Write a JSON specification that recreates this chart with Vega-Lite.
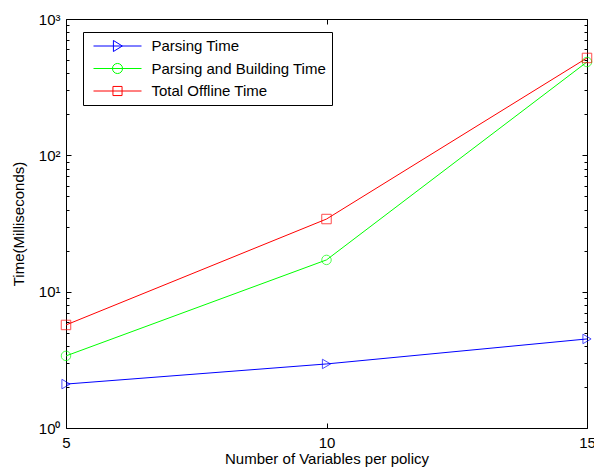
{
  "$schema": "https://vega.github.io/schema/vega-lite/v6.json",
  "width": 521,
  "height": 409,
  "autosize": {"type": "none"},
  "padding": {"left": 66, "top": 19, "right": 7, "bottom": 44},
  "background": "white",
  "config": {
    "font": "Liberation Sans",
    "view": {"stroke": "black", "strokeWidth": 1},
    "axis": {
      "domain": false,
      "grid": false,
      "zindex": 1,
      "tickColor": "black",
      "tickWidth": 1,
      "labelColor": "black",
      "labelFont": "Liberation Sans",
      "labelFontSize": 15,
      "titleFont": "Liberation Sans",
      "titleFontSize": 15,
      "titleFontWeight": "normal",
      "titleColor": "black"
    },
    "legend": {
      "orient": "none",
      "legendX": 17,
      "legendY": 13,
      "strokeColor": "black",
      "strokeWidth": 1,
      "fillColor": "white",
      "padding": 5.5,
      "symbolSize": 2304,
      "symbolOpacity": 1,
      "clipHeight": 17,
      "rowPadding": 5.5,
      "symbolOffset": 4.5,
      "labelOffset": 9.5,
      "symbolStrokeWidth": 1,
      "labelFont": "Liberation Sans",
      "labelFontSize": 15,
      "labelColor": "black",
      "labelLimit": 400
    }
  },
  "data": {
    "values": [
      {"vars": 5, "series": "Parsing Time", "ms": 2.1},
      {"vars": 10, "series": "Parsing Time", "ms": 2.95},
      {"vars": 15, "series": "Parsing Time", "ms": 4.5},
      {"vars": 5, "series": "Parsing and Building Time", "ms": 3.38},
      {"vars": 10, "series": "Parsing and Building Time", "ms": 17.1},
      {"vars": 15, "series": "Parsing and Building Time", "ms": 484},
      {"vars": 5, "series": "Total Offline Time", "ms": 5.7},
      {"vars": 10, "series": "Total Offline Time", "ms": 34.1},
      {"vars": 15, "series": "Total Offline Time", "ms": 518}
    ]
  },
  "layer": [
    {
      "mark": {"type": "line", "strokeWidth": 1},
      "encoding": {
        "x": {
          "field": "vars", "type": "quantitative",
          "scale": {"domain": [5, 15], "nice": false, "zero": false},
          "axis": {
            "orient": "bottom",
            "values": [5, 10, 15],
            "format": "d",
            "offset": -5,
            "tickSize": 5,
            "labelFlush": false,
            "labelPadding": 7,
            "title": "Number of Variables per policy",
            "titlePadding": 1
          }
        },
        "y": {
          "field": "ms", "type": "quantitative",
          "scale": {"type": "log", "domain": [1, 1000], "nice": false},
          "axis": {
            "orient": "left",
            "values": [1, 10, 100, 1000],
            "labelExpr": "datum.value == 1 ? '10⁰' : datum.value == 10 ? '10¹' : datum.value == 100 ? '10²' : '10³'",
            "labelOverlap": false,
            "labelBound": false,
            "offset": -5,
            "tickSize": 5,
            "labelPadding": 6,
            "title": "Time(Milliseconds)",
            "titlePadding": 12
          }
        },
        "color": {
          "field": "series", "type": "nominal",
          "scale": {
            "domain": ["Parsing Time", "Parsing and Building Time", "Total Offline Time"],
            "range": ["#0000ff", "#00ff00", "#ff0000"]
          },
          "legend": null
        }
      }
    },
    {
      "mark": {"type": "point", "filled": false, "size": 90, "strokeWidth": 1},
      "encoding": {
        "x": {"field": "vars", "type": "quantitative", "axis": null},
        "y": {"field": "ms", "type": "quantitative", "axis": null},
        "color": {
          "field": "series", "type": "nominal",
          "scale": {
            "domain": ["Parsing Time", "Parsing and Building Time", "Total Offline Time"],
            "range": ["#0000ff", "#00ff00", "#ff0000"]
          },
          "legend": null
        },
        "shape": {
          "field": "series", "type": "nominal",
          "scale": {
            "domain": ["Parsing Time", "Parsing and Building Time", "Total Offline Time"],
            "range": ["triangle-right", "circle", "square"]
          },
          "legend": null
        }
      }
    },
    {
      "mark": {"type": "point", "filled": false, "opacity": 0, "strokeWidth": 1},
      "encoding": {
        "x": {
          "field": "vars", "type": "quantitative",
          "axis": {"orient": "top", "values": [5, 10, 15], "labels": false, "title": null, "offset": -5, "tickSize": 5}
        },
        "y": {
          "field": "ms", "type": "quantitative",
          "axis": {"orient": "right", "values": [1, 10, 100, 1000], "labels": false, "title": null, "offset": -5, "tickSize": 5}
        },
        "color": {
          "field": "series", "type": "nominal",
          "scale": {
            "domain": ["Parsing Time", "Parsing and Building Time", "Total Offline Time"],
            "range": ["#0000ff", "#00ff00", "#ff0000"]
          },
          "legend": {"title": null}
        },
        "shape": {
          "field": "series", "type": "nominal",
          "scale": {
            "domain": ["Parsing Time", "Parsing and Building Time", "Total Offline Time"],
            "range": [
              "M-1,0L1,0M-0.17,-0.23L0.2,0L-0.17,0.23Z",
              "M-1,0L1,0M0.21,0A0.21,0.21 0 1,1 -0.21,0A0.21,0.21 0 1,1 0.21,0Z",
              "M-1,0L1,0M-0.19,-0.19L0.19,-0.19L0.19,0.19L-0.19,0.19Z"
            ]
          },
          "legend": {"title": null}
        }
      }
    },
    {
      "mark": {"type": "point", "opacity": 0},
      "encoding": {
        "x": {"field": "vars", "type": "quantitative", "axis": null},
        "y": {
          "field": "ms", "type": "quantitative",
          "axis": {
            "orient": "left",
            "values": [2, 3, 4, 5, 6, 7, 8, 9, 20, 30, 40, 50, 60, 70, 80, 90, 200, 300, 400, 500, 600, 700, 800, 900],
            "labels": false, "title": null, "offset": -3, "tickSize": 3
          }
        }
      }
    },
    {
      "mark": {"type": "point", "opacity": 0},
      "encoding": {
        "x": {"field": "vars", "type": "quantitative", "axis": null},
        "y": {
          "field": "ms", "type": "quantitative",
          "axis": {
            "orient": "right",
            "values": [2, 3, 4, 5, 6, 7, 8, 9, 20, 30, 40, 50, 60, 70, 80, 90, 200, 300, 400, 500, 600, 700, 800, 900],
            "labels": false, "title": null, "offset": -3, "tickSize": 3
          }
        }
      }
    }
  ],
  "resolve": {
    "scale": {"shape": "independent", "color": "independent"},
    "axis": {"x": "independent", "y": "independent"}
  }
}
